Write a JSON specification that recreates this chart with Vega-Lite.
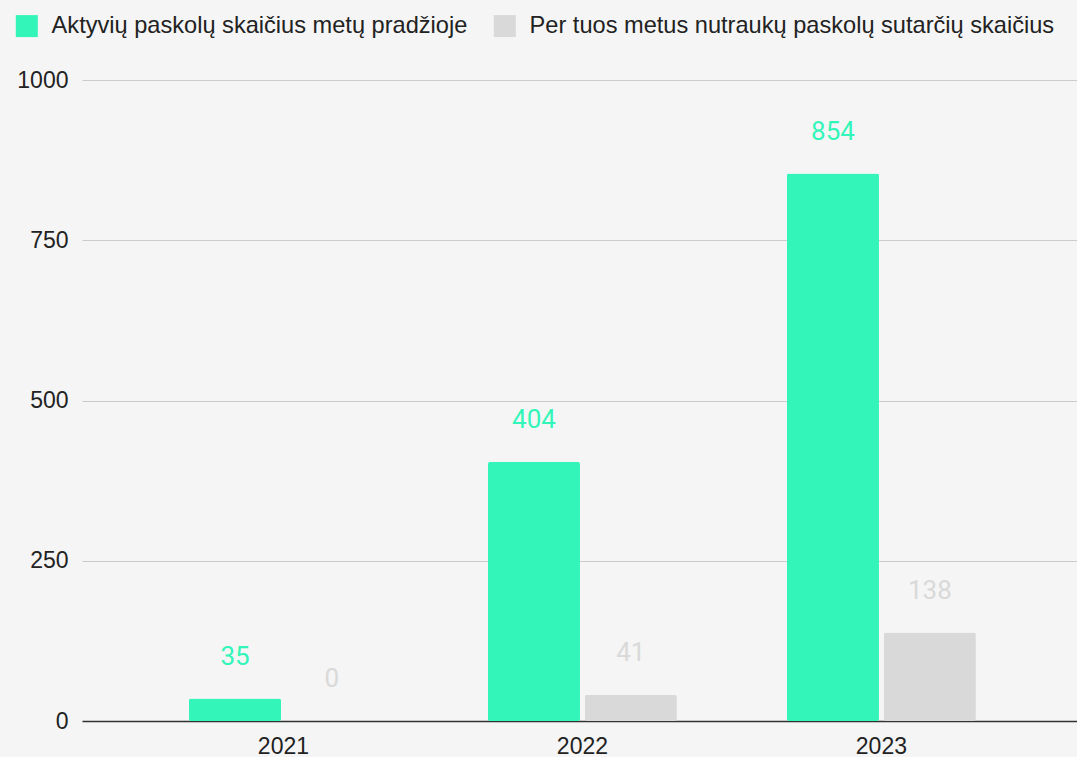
{
  "$schema": "https://vega.github.io/schema/vega-lite/v6.json",
  "autosize": {"type": "none"},
  "padding": {"left": 82, "top": 80, "right": 0, "bottom": 36},
  "width": 995,
  "height": 641,
  "background": "#f5f5f5",
  "config": {
    "view": {"stroke": null},
    "font": "Liberation Sans"
  },
  "data": {
    "values": [
      {"year": "2021", "series": "Aktyvių paskolų skaičius metų pradžioje", "value": 35},
      {"year": "2021", "series": "Per tuos metus nutraukų paskolų sutarčių skaičius", "value": 0},
      {"year": "2022", "series": "Aktyvių paskolų skaičius metų pradžioje", "value": 404},
      {"year": "2022", "series": "Per tuos metus nutraukų paskolų sutarčių skaičius", "value": 41},
      {"year": "2023", "series": "Aktyvių paskolų skaičius metų pradžioje", "value": 854},
      {"year": "2023", "series": "Per tuos metus nutraukų paskolų sutarčių skaičius", "value": 138}
    ]
  },
  "encoding": {
    "x": {
      "field": "year", "type": "nominal", "title": null,
      "scale": {"paddingInner": 0.368, "paddingOuter": 0.348, "align": 0.514},
      "axis": {
        "labelAngle": 0, "labelFontSize": 23, "labelColor": "#222", "labelPadding": 14,
        "ticks": false, "domainColor": "#333", "domainWidth": 1.5, "grid": false
      }
    },
    "xOffset": {
      "field": "series", "type": "nominal",
      "sort": ["Aktyvių paskolų skaičius metų pradžioje", "Per tuos metus nutraukų paskolų sutarčių skaičius"],
      "scale": {"paddingInner": 0.05}
    },
    "y": {
      "field": "value", "type": "quantitative", "title": null,
      "scale": {"domain": [0, 1000]},
      "axis": {
        "values": [0, 250, 500, 750, 1000], "format": "d", "labelFontSize": 23, "labelColor": "#222",
        "labelPadding": 14, "ticks": false, "domain": false,
        "gridColor": "#cccccc", "gridWidth": 1
      }
    },
    "color": {
      "field": "series", "type": "nominal",
      "sort": ["Aktyvių paskolų skaičius metų pradžioje", "Per tuos metus nutraukų paskolų sutarčių skaičius"],
      "scale": {"range": ["#34f5b9", "#d9d9d9"]},
      "legend": {
        "title": null, "orient": "none", "direction": "horizontal",
        "legendX": -67, "legendY": -66,
        "symbolType": "square", "symbolSize": 484, "symbolStrokeWidth": 0,
        "labelFontSize": 23.6, "labelColor": "#222", "labelOffset": 13,
        "columnPadding": 25, "labelLimit": 600
      }
    }
  },
  "layer": [
    {"mark": {"type": "bar", "cornerRadius": 2}},
    {
      "mark": {"type": "text", "font": "Roboto", "fontSize": 26, "baseline": "alphabetic", "dy": -34, "stroke": "white", "strokeWidth": 4, "strokeOpacity": 0.9},
      "encoding": {"color": {"value": "white"}}
    },
    {
      "mark": {"type": "text", "font": "Roboto", "fontSize": 26, "baseline": "alphabetic", "dy": -34},
      "encoding": {"text": {"field": "value", "type": "quantitative"}}
    }
  ]
}
